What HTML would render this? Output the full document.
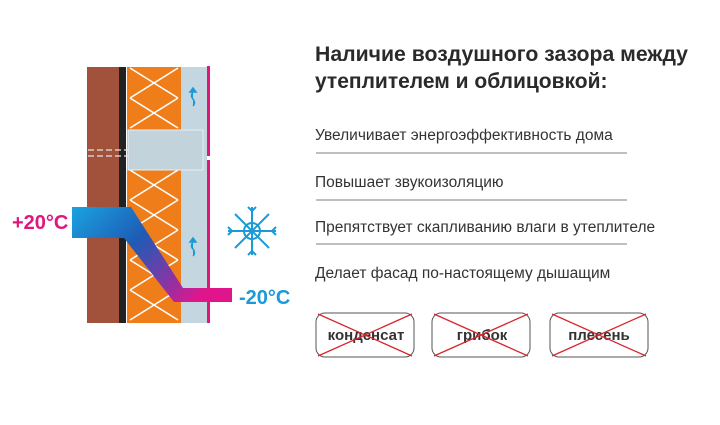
<!DOCTYPE html>
<html><head><meta charset="utf-8"><style>
body{margin:0;background:#fff}
svg{display:block}
text{font-family:"Liberation Sans",sans-serif}
</style></head><body>
<svg width="720" height="425" viewBox="0 0 720 425">
<defs>
<linearGradient id="pg" x1="0" y1="0" x2="1" y2="0.6">
<stop offset="0" stop-color="#1aa3e0"/><stop offset="0.45" stop-color="#1e5bb5"/><stop offset="0.75" stop-color="#7a3aa8"/><stop offset="1" stop-color="#e0158c"/>
</linearGradient>
<clipPath id="oc"><rect x="127" y="67" width="54" height="256"/></clipPath>
</defs>
<rect x="87" y="67" width="32" height="256" fill="#a2513a"/>
<rect x="119" y="67" width="7" height="256" fill="#222"/>
<rect x="127" y="67" width="54" height="256" fill="#ee7d1a"/>
<g clip-path="url(#oc)" stroke="#fff" stroke-width="1.6" fill="none">
<path d="M130 68 L178 98 M178 68 L130 98 M130 98 L178 128 M178 98 L130 128 M130 140 L178 170 M178 140 L130 170 M130 170 L178 200 M178 170 L130 200 M130 200 L178 230 M178 200 L130 230 M130 230 L178 260 M178 230 L130 260 M130 260 L178 290 M178 260 L130 290 M130 290 L178 320 M178 290 L130 320"/>
</g>
<rect x="181" y="67" width="26" height="256" fill="#c4d6e0"/>
<rect x="128" y="130" width="75" height="40" fill="#c3d3dc" stroke="#e8eef2" stroke-width="1"/>
<path d="M88 150 H128 M88 156 H128" stroke="#e0e6ea" stroke-dasharray="6 3" stroke-width="1.2"/>
<rect x="207" y="66" width="3" height="90" fill="#e0157f"/>
<rect x="207" y="160" width="3" height="163" fill="#e0157f"/>
<path d="M193 88 l-3 4 h6 z M193 92 q-3 4 0 7 q3 4 0 7" stroke="#1a9ad8" stroke-width="1.5" fill="#1a9ad8"/>
<path d="M193 238 l-3 4 h6 z M193 242 q-3 4 0 7 q3 4 0 7" stroke="#1a9ad8" stroke-width="1.5" fill="#1a9ad8"/>
<path d="M72 207 H131 L183 288 H232 V302 H174 L124 238 H72 Z" fill="url(#pg)"/>
<text x="12" y="229" font-size="20" font-weight="bold" fill="#e0157f">+20°C</text>
<text x="239" y="304" font-size="20" font-weight="bold" fill="#1a9ad8">-20°C</text>
<g stroke="#1a9ad8" stroke-width="2" fill="none" transform="translate(252,231)">
<circle r="8"/>
<path d="M-24 0 H24 M0 -24 V24 M-17 -17 L17 17 M-17 17 L17 -17"/>
<path d="M-24 -4 l4 4 -4 4 M24 -4 l-4 4 4 4 M-4 -24 l4 4 4 -4 M-4 24 l4 -4 4 4"/>
</g>
<text x="315" y="61" font-size="21" font-weight="bold" fill="#2a2a2a" textLength="373" lengthAdjust="spacingAndGlyphs">Наличие воздушного зазора между</text>
<text x="315" y="88" font-size="21" font-weight="bold" fill="#2a2a2a">утеплителем и облицовкой:</text>
<g font-size="15.5" fill="#333">
<text x="315" y="140">Увеличивает энергоэффективность дома</text>
<text x="315" y="187">Повышает звукоизоляцию</text>
<text x="315" y="232">Препятствует скапливанию влаги в утеплителе</text>
<text x="315" y="278">Делает фасад по-настоящему дышащим</text>
</g>
<g stroke="#999" stroke-width="1.2">
<path d="M316 153 H627 M316 200 H627 M316 244 H627"/>
</g>
<g font-size="15" font-weight="bold" fill="#333" text-anchor="middle">
<rect x="316" y="313" width="98" height="44" rx="9" fill="none" stroke="#555" stroke-width="1"/>
<text x="366" y="340">конденсат</text>
<rect x="432" y="313" width="98" height="44" rx="9" fill="none" stroke="#555" stroke-width="1"/>
<text x="482" y="340">грибок</text>
<rect x="550" y="313" width="98" height="44" rx="9" fill="none" stroke="#555" stroke-width="1"/>
<text x="599" y="340">плесень</text>
</g>
<g stroke="#d8262e" stroke-width="1.3">
<path d="M318 314 L412 356 M412 314 L318 356 M434 314 L528 356 M528 314 L434 356 M552 314 L646 356 M646 314 L552 356"/>
</g>
</svg>
</body></html>
